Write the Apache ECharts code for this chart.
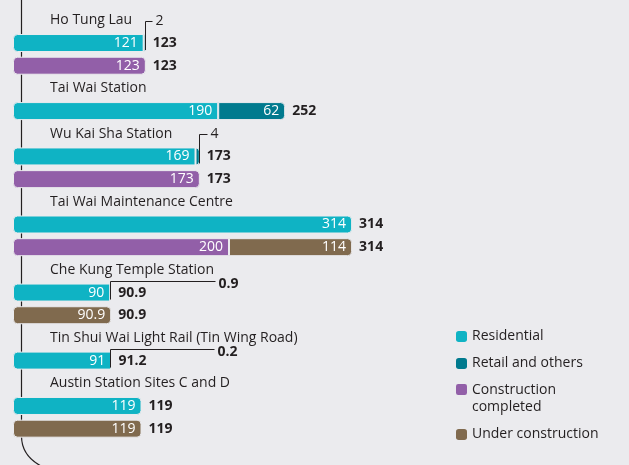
<!DOCTYPE html>
<html>
<head>
<meta charset="utf-8">
<script src="https://cdn.jsdelivr.net/npm/echarts@6/dist/echarts.min.js"></script>
<style>
  html, body { margin: 0; padding: 0; background: #ebebee; }
  #chart { width: 629px; height: 465px; }
</style>
</head>
<body>
<div id="chart"></div>
<script>
// data
const projects = [
  "Ho Tung Lau",
  "Tai Wai Station",
  "Wu Kai Sha Station",
  "Tai Wai Maintenance Centre",
  "Che Kung Temple Station",
  "Tin Shui Wai Light Rail (Tin Wing Road)",
  "Austin Station Sites C and D"
];
const residential = [121, 190, 169, 314, 90, 91, 119];
const retail = [2, 62, 4, null, 0.9, 0.2, null];
const completed = [123, null, 173, 200, null, null, null];
const underConstruction = [null, null, null, 114, 90.9, null, 119];

const seriesNames = ["Residential", "Retail and others", "Construction completed", "Under construction"];
const colors = ["#0fb3c4", "#007a8e", "#925fa8", "#806a4e"];

// how the small retail values are called out (layout only)
const calloutLayout = {
  "Ho Tung Lau": { rise: 0.95, run: 7, bold: false, dy: 0 },
  "Wu Kai Sha Station": { rise: 1.0, run: 8, bold: false, dy: 0 },
  "Che Kung Temple Station": { rise: 0.5, run: 105, bold: true, dy: 3 },
  "Tin Shui Wai Light Rail (Tin Wing Road)": { rise: 0.5, run: 104, bold: true, dy: 3 }
};

const bg = "#ebebee";
const textColor = "#231f20";
const round1 = v => Math.round(v * 10) / 10;

// build the rows: a label row, then one or two bar rows per project
const cats = [], rowLabels = [];
const resData = [], retData = [], compData = [], underData = [];
const totals = [], callouts = [];

function pushEmpty() {
  resData.push(null); retData.push(null); compData.push(null); underData.push(null);
}

projects.forEach((name, i) => {
  cats.push("l" + i); rowLabels.push(name); pushEmpty();

  const r = cats.length;
  cats.push("g" + i); rowLabels.push("");
  const hasRet = retail[i] != null;
  resData.push({ value: residential[i], itemStyle: { borderRadius: hasRet ? [4, 0, 0, 4] : 4 } });
  retData.push(hasRet ? { value: retail[i], itemStyle: { borderRadius: [0, 4, 4, 0] } } : null);
  compData.push(null); underData.push(null);
  const t = round1(residential[i] + (retail[i] || 0));
  totals.push([t, r]);
  if (calloutLayout[name]) callouts.push([t, r, retail[i], name]);

  if (completed[i] != null || underConstruction[i] != null) {
    const s = cats.length;
    cats.push("s" + i); rowLabels.push("");
    resData.push(null); retData.push(null);
    const both = completed[i] != null && underConstruction[i] != null;
    compData.push(completed[i] != null ? { value: completed[i], itemStyle: { borderRadius: both ? [4, 0, 0, 4] : 4 } } : null);
    underData.push(underConstruction[i] != null ? { value: underConstruction[i], itemStyle: { borderRadius: both ? [0, 4, 4, 0] : 4 } } : null);
    totals.push([round1((completed[i] || 0) + (underConstruction[i] || 0)), s]);
  }
});

const font = "Open Sans";

function barSeries(idx, data, minLabel) {
  return {
    name: seriesNames[idx],
    type: "bar",
    stack: "all",
    data: data,
    barWidth: 18,
    itemStyle: { color: colors[idx], borderColor: bg, borderWidth: 1 },
    label: {
      show: true,
      position: "insideRight",
      distance: 6,
      color: "#fff",
      fontFamily: font,
      fontSize: 14,
      formatter: p => (p.value >= minLabel ? String(p.value) : "")
    },
    emphasis: { disabled: true }
  };
}

const chart = echarts.init(document.getElementById("chart"));

const legendText = { color: textColor, fontFamily: font, fontSize: 14, lineHeight: 17 };
const legendItem = { borderWidth: 0 };

chart.setOption({
  backgroundColor: bg,
  animation: false,
  grid: { left: 13, right: 76, top: 9, bottom: 25 },
  xAxis: { type: "value", min: 0, max: 500, show: false },
  yAxis: {
    type: "category",
    inverse: true,
    data: cats,
    axisLine: { show: false },
    axisTick: { show: false },
    splitLine: { show: false },
    axisLabel: {
      inside: true,
      interval: 0,
      margin: 37,
      color: textColor,
      fontFamily: font,
      fontSize: 14,
      formatter: (v, idx) => rowLabels[idx]
    },
    z: 5
  },
  legend: [
    {
      data: [seriesNames[0], seriesNames[1]],
      orient: "vertical", left: 451, top: 323,
      itemWidth: 11, itemHeight: 11, itemGap: 10,
      icon: "roundRect", itemStyle: legendItem, textStyle: legendText, selectedMode: false
    },
    {
      data: [{ name: seriesNames[2], icon: "path://M2,0h6q2,0 2,2v6q0,2 -2,2h-6q-2,0 -2,-2v-6q0,-2 2,-2Z M0,27.3" }],
      orient: "vertical", left: 451, top: 377,
      itemWidth: 11, itemHeight: 30,
      formatter: "Construction\ncompleted",
      itemStyle: legendItem, textStyle: legendText, selectedMode: false
    },
    {
      data: [seriesNames[3]],
      orient: "vertical", left: 451, top: 421,
      itemWidth: 11, itemHeight: 11,
      icon: "roundRect", itemStyle: legendItem, textStyle: legendText, selectedMode: false
    }
  ],
  graphic: [
    {
      type: "line",
      z: 0,
      shape: { x1: 21.5, y1: 0, x2: 21.5, y2: 436 },
      style: { stroke: "#231f20", lineWidth: 1.2 }
    },
    {
      type: "bezierCurve",
      z: 0,
      shape: { x1: 21.5, y1: 436, cpx1: 21.5, cpy1: 450, cpx2: 28, cpy2: 459, x2: 41, y2: 466 },
      style: { fill: null, stroke: "#231f20", lineWidth: 1.2 }
    }
  ],
  series: [
    barSeries(0, resData, 10),
    barSeries(1, retData, 10),
    barSeries(2, compData, 10),
    barSeries(3, underData, 10),
    {
      name: "total",
      type: "scatter",
      data: totals,
      symbolSize: 0,
      silent: true,
      z: 4,
      itemStyle: { opacity: 1 },
      label: {
        show: true,
        position: "right",
        distance: 7,
        color: textColor,
        fontFamily: font,
        fontWeight: "bold",
        fontSize: 14,
        formatter: p => String(p.value[0])
      }
    },
    {
      name: "callout",
      type: "custom",
      data: callouts,
      silent: true,
      z: 6,
      renderItem: function (params, api) {
        const lay = calloutLayout[callouts[params.dataIndex][3]];
        const p = api.coord([api.value(0), api.value(1)]);
        const band = api.size([0, 1])[1];
        const x = Math.round(p[0]) - 0.5;
        const cy = Math.round(p[1] - lay.rise * band) + 0.5;
        return {
          type: "group",
          children: [
            {
              type: "polyline",
              shape: { points: [[x, p[1] + 7], [x, cy], [x + lay.run, cy]] },
              style: { fill: null, stroke: textColor, lineWidth: 1 }
            },
            {
              type: "text",
              x: x + lay.run + 3,
              y: cy + lay.dy,
              style: {
                text: String(api.value(2)),
                fill: textColor,
                font: (lay.bold ? "bold " : "") + "14px " + font,
                verticalAlign: "middle",
                align: "left"
              }
            }
          ]
        };
      }
    }
  ]
});
</script>
</body>
</html>
